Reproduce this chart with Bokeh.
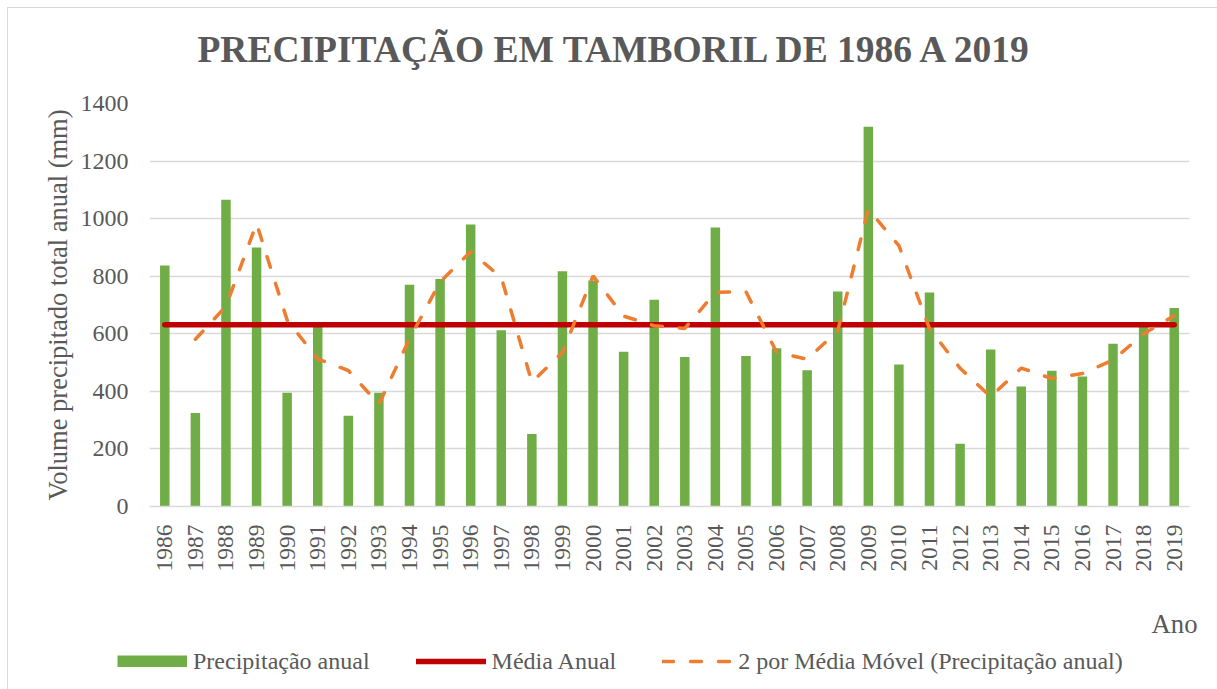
import numpy as np
from bokeh.plotting import figure
from bokeh.layouts import column, row
from bokeh.models import (ColumnDataSource, FactorRange, Range1d, Legend, LegendItem,
                          Label, FixedTicker)
from bokeh.embed import file_html
from bokeh.resources import INLINE

# ---- data ----
years = [str(y) for y in range(1986, 2020)]
precip = [837, 325, 1066, 900, 395, 630, 315, 395, 770, 790,
          980, 612, 252, 817, 785, 538, 718, 519, 969, 523,
          550, 473, 747, 1319, 493, 743, 218, 545, 417, 472,
          452, 565, 635, 690]
y_ticks = [0, 200, 400, 600, 800, 1000, 1200, 1400]

title_text = "PRECIPITAÇÃO EM TAMBORIL DE 1986 A 2019"
y_label = "Volume precipitado total anual (mm)"
x_label = "Ano"
legend_labels = ["Precipitação anual", "Média Anual",
                 "2 por Média Móvel (Precipitação anual)"]

# derived series (mean and 2-period moving average of the data)
mean_val = float(np.mean(precip))
mean_line = [mean_val] * len(years)
mov_avg = [(precip[i - 1] + precip[i]) / 2 for i in range(1, len(precip))]
mov_years = years[1:]

FONT = "Liberation Serif"
GRAY = "#595959"
GREEN, RED, ORANGE = "#70ad47", "#c00000", "#ed7d31"
W = 1209
BL, BR = 141, 28


def strip(h, left=0, right=0):
    f = figure(width=W, height=h, x_range=Range1d(left, W - right), y_range=Range1d(0, h),
               x_axis_type=None, y_axis_type=None, output_backend="svg",
               toolbar_location=None, min_border=0)
    f.min_border_left, f.min_border_right = left, right
    f.min_border_top = f.min_border_bottom = 0
    f.outline_line_color = None
    f.grid.visible = False
    f.background_fill_color = "white"
    f.border_fill_color = "white"
    return f


# ---------------- header with the title ----------------
HH = 70
head = strip(HH, BL, BR)
head.add_layout(Label(x=608, y=29, text=title_text, text_font=FONT,
                      text_font_size="37.5px", text_font_style="bold",
                      text_color=GRAY, text_align="center", text_baseline="alphabetic"))

# ---------------- main chart ----------------
p = figure(frame_width=1040, frame_height=403,
           x_range=FactorRange(*years, range_padding=0),
           y_range=Range1d(0, 1400), output_backend="svg", toolbar_location=None,
           min_border_left=BL, min_border_right=BR, min_border_top=95 - HH,
           min_border_bottom=84)
p.outline_line_color = None
p.background_fill_color = "white"
p.border_fill_color = "white"

src = ColumnDataSource(dict(year=years, precip=precip, mean=mean_line))
msrc = ColumnDataSource(dict(year=mov_years, ma=mov_avg))

p.vbar(x="year", top="precip", width=0.31, source=src,
       fill_color=GREEN, line_color=None)
p.line(x="year", y="mean", source=src, line_color=RED,
       line_width=5.5, line_cap="round")
p.line(x="year", y="ma", source=msrc, line_color=ORANGE,
       line_width=3.5, line_dash="11 17", line_cap="round")

p.yaxis.ticker = FixedTicker(ticks=y_ticks)
p.yaxis.axis_line_color = None
p.yaxis.major_tick_line_color = None
p.yaxis.minor_tick_line_color = None
p.yaxis.major_label_text_font = FONT
p.yaxis.major_label_text_font_size = "24px"
p.yaxis.major_label_text_color = GRAY
p.yaxis.major_label_standoff = 15
p.yaxis.axis_label = y_label
p.yaxis.axis_label_text_font = FONT
p.yaxis.axis_label_text_font_size = "26.5px"
p.yaxis.axis_label_text_font_style = "normal"
p.yaxis.axis_label_text_color = GRAY
p.yaxis.axis_label_standoff = 5

p.xaxis.axis_line_color = "#d9d9d9"
p.xaxis.axis_line_width = 1.5
p.xaxis.major_tick_line_color = None
p.xaxis.minor_tick_line_color = None
p.xaxis.major_label_orientation = np.pi / 2
p.xaxis.major_label_text_font = FONT
p.xaxis.major_label_text_font_size = "23.5px"
p.xaxis.major_label_text_color = GRAY
p.xaxis.major_label_standoff = 12

p.xgrid.grid_line_color = None
p.ygrid.grid_line_color = "#d9d9d9"
p.ygrid.grid_line_width = 1.4

# ---------------- bottom strip: axis name + legend ----------------
LH = 100
q = strip(LH)
# legend swatch renderers (placed outside the visible range)
r_bar = q.line(x=[-500, -499], y=[1, 1], line_color=GREEN, line_width=12,
               line_cap="butt")
r_mean = q.line(x=[-500, -499], y=[1, 1], line_color=RED, line_width=5.5,
                line_cap="round")
r_ma = q.line(x=[-500, -499], y=[1, 1], line_color=ORANGE, line_width=3.5,
              line_dash="11 17", line_cap="round")

q.add_layout(Label(x=1189, y=67, text=x_label, text_font=FONT,
                   text_font_size="26.7px", text_color=GRAY,
                   text_align="right", text_baseline="alphabetic"))

legend = Legend(items=[LegendItem(label=legend_labels[0], renderers=[r_bar]),
                       LegendItem(label=legend_labels[1], renderers=[r_mean]),
                       LegendItem(label=legend_labels[2], renderers=[r_ma])],
                location=(109, 15), orientation="horizontal")
legend.padding = 0
legend.margin = 0
legend.spacing = 46
legend.glyph_width = 70
legend.glyph_height = 12
legend.label_height = 28
legend.label_standoff = 6
legend.border_line_color = None
legend.background_fill_alpha = 0
legend.label_text_font = FONT
legend.label_text_font_size = "24px"
legend.label_text_color = GRAY
q.add_layout(legend)

layout = column(head, p, row(q), spacing=0)
layout.styles = {"outline": "1.5px solid #d9d9d9", "margin-left": "8px",
                 "margin-top": "8px"}

open("out.html", "w").write(file_html(layout, INLINE))
